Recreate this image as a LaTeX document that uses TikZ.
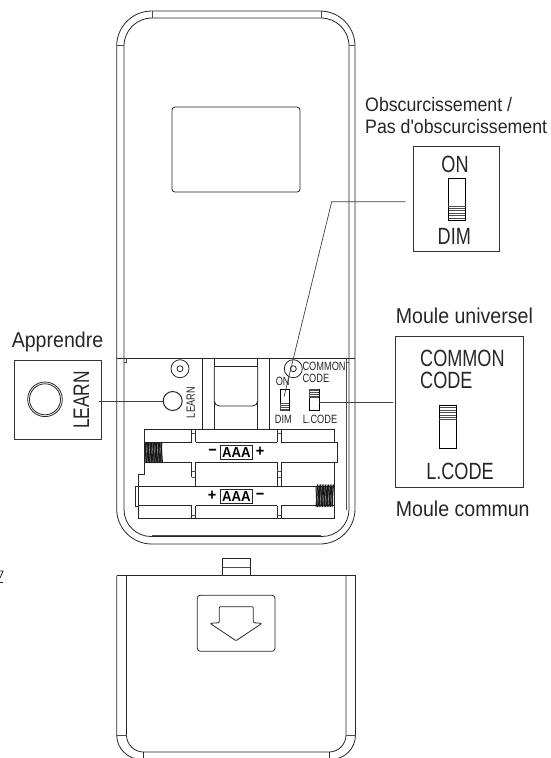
\documentclass[tikz,border=0pt]{standalone}
\usepackage{fontspec}
\setmainfont{Liberation Sans}[FakeStretch=0.91, Ligatures=TeXOff]
\newfontfamily\codefont{Liberation Sans}[FakeStretch=0.77]

\tikzset{
	part/.style={line width=0.8pt, draw=black!85},
	thin part/.style={line width=0.6pt, draw=black!70},
	leader/.style={line width=0.7pt, draw=black!75},
	caption/.style={font=\fontsize{19.5}{21.5}\selectfont, text=black!85, inner sep=0pt, align=left},
	large caption/.style={caption, font=\fontsize{21.5}{23}\selectfont},
	big code/.style={font=\codefont\fontsize{23.5}{25}\selectfont, text=black!85, inner sep=0pt},
	small code/.style={font=\codefont\fontsize{12}{13}\selectfont, text=black!85, inner sep=0pt},
	zoom box/.style={rectangle, draw=black!80, line width=0.8pt, inner sep=0pt},
	slider/.style={rectangle, draw=black, line width=0.8pt, inner sep=0pt},
	round part/.style={circle, draw=black!85, line width=0.8pt, inner sep=0pt},
	battery box/.style={rectangle, draw=black!85, line width=1.1pt, inner sep=0pt,
		minimum width=31.5pt, minimum height=14.3pt, font=\bfseries\fontsize{14.5}{14.5}\selectfont},
	battery sign/.style={font=\bfseries\fontsize{16}{16}\selectfont, inner sep=0pt}
}

\begin{document}
\begin{tikzpicture}[x=1pt, y=-1pt]
	\useasboundingbox (0,0) rectangle (550,758);
	\clip (0,0) rectangle (550,758);

	% remote body
	\draw[part, rounded corners=35pt] (116.7,11) rectangle (355,544);
	\draw[part, rounded corners=28pt] (124,358) -- (124,18) -- (349,18) -- (349,358);
	\draw[thin part] (152,11) -- (152,18);
	\draw[thin part] (321,11) -- (321,18);
	\draw[thin part] (116.7,45) -- (124,45);
	\draw[thin part] (349,45) -- (355,45);
	\draw[part, rounded corners=3pt] (172,107) rectangle (300,192);
	\draw[part] (116.7,358) -- (355,358);

	% lower inner edge
	\draw[part, rounded corners=27pt] (124,358) -- (124,536.5) -- (349,536.5) -- (349,358);
	\draw[thin part] (346.7,358) -- (346.7,510);
	\draw[thin part] (152,534.8) -- (321,534.8);
	\draw[thin part] (124,362) -- (126,362) -- (126,358);
	\draw[thin part] (347,362) -- (349,362);

	% centre slot
	\foreach \slotx in {202.7,214.3,257.7,269.3}
		\draw[part] (\slotx,358) -- (\slotx,429.3);
	\draw[part, fill=white, rounded corners=5pt] (214.3,366.7) -- (214.3,406) -- (257.7,406) -- (257.7,366.7);
	\draw[part] (214.3,366.7) -- (257.7,366.7);

	% screws and learn button
	\node[round part, minimum size=18pt] (screwL) at (180,368.7) {};
	\node[round part, minimum size=6pt] (screwLhole) at (180,368.7) {};
	\node[round part, minimum size=18pt] (screwR) at (293.3,368.7) {};
	\node[round part, minimum size=6pt] (screwRhole) at (293.3,368.7) {};
	\node[round part, line width=1pt, minimum size=19pt] (learnbtn) at (172.7,401) {};
	\node[small code, rotate=90] (learntxt) at (190.7,402.7) {LEARN};

	% switches on the remote
	\node[small code, anchor=west] (commontxt) at (302.3,366) {COMMON};
	\node[small code, anchor=west] (codetxt) at (302.3,378) {CODE};
	\node[small code] (ontxt) at (282.7,381.7) {ON};
	\node[small code] (dimtxt) at (283.3,419) {DIM};
	\node[small code] (lcodetxt) at (320,419) {L.CODE};
	\node[slider, minimum width=9pt, minimum height=21.7pt] (dimsw) at (284.5,399.8) {};
	\node[slider, minimum width=9.7pt, minimum height=21.7pt] (lcodesw) at (314.2,399.8) {};
	\fill[black!70] (280,402.7) rectangle (289,410.7);
	\fill[black!70] (309.3,389) rectangle (319,398);
	\foreach \hatchy in {404.5,406.5,408.5}
		\draw[white, line width=0.5pt] (280.5,\hatchy) -- (288.5,\hatchy);
	\foreach \hatchy in {391,393,395}
		\draw[white, line width=0.5pt] (309.8,\hatchy) -- (318.5,\hatchy);

	% battery bay
	\draw[part] (144.3,429.3) -- (334,429.3) -- (334,442.3) -- (337.7,442.3) -- (337.7,462) -- (334,462)
		-- (334,518.3) -- (138.3,518.3) -- (138.3,474) -- (144.3,474) -- cycle;
	\foreach \riba/\ribb in {191.7/195.7,277/281} {
		\draw[part] (\riba,429.3) -- (\riba,442.3);
		\draw[part] (\ribb,429.3) -- (\ribb,442.3);
		\draw[part] (\riba,462) -- (\riba,477.3);
		\draw[part] (\ribb,462) -- (\ribb,486);
		\draw[part] (\riba,505.7) -- (\riba,518.3);
		\draw[part] (\ribb,505.7) -- (\ribb,518.3);
		\draw[thin part] (\riba,433) -- (\ribb,433);
		\draw[thin part] (\riba,471.7) -- (\ribb,471.7);
		\draw[thin part] (\riba,477.3) -- (\ribb,477.3);
		\draw[thin part] (\riba,515) -- (\ribb,515);
	}
	\draw[part] (277,477.3) -- (277,486);
	\foreach \chany in {442.3,462,505.7} {
		\draw[part] (144.3,\chany) -- (191.7,\chany);
		\draw[part] (195.7,\chany) -- (277,\chany);
		\draw[part] (281,\chany) -- (334,\chany);
	}
	\draw[part] (135,486) -- (334,486);
	\draw[part] (138.3,505.7) -- (144.3,505.7);
	\draw[part] (138.3,486) -- (135,486) -- (135,506) -- (138.3,506);
	\foreach \springk in {0,...,10} {
		\draw[line width=1pt, black!90] (145+\springk*1.6,442.5) -- (146.5+\springk*1.6,463);
		\draw[line width=1pt, black!90] (145.8+\springk*1.6,443) -- (145+\springk*1.6,462);
		\draw[line width=1pt, black!90] (316+\springk*1.6,507) -- (317.5+\springk*1.6,484.5);
		\draw[line width=1pt, black!90] (316.8+\springk*1.6,506) -- (316+\springk*1.6,486);
	}
	\node[battery box] (aaaA) at (236.4,452.2) {AAA};
	\node[battery box] (aaaB) at (236.4,496.3) {AAA};
	\node[battery sign] (minusA) at (212.7,452) {\textminus};
	\node[battery sign] (plusA) at (260,452) {+};
	\node[battery sign] (plusB) at (212,496) {+};
	\node[battery sign] (minusB) at (260,496) {\textminus};

	% battery cover
	\draw[part] (222.7,575.7) -- (222.7,558.3) -- (250,558.3) -- (250,575.7);
	\draw[thin part] (222.7,567) -- (250,567);
	\draw[part, rounded corners=24.4pt] (116.7,575.7) -- (116.7,759.4) -- (355.5,759.4) -- (355.5,575.7);
	\draw[part, rounded corners=17pt] (126.5,575.7) -- (126.5,752) -- (346,752) -- (346,575.7);
	\draw[part] (116.7,575.7) -- (355.5,575.7);
	\draw[thin part] (116.7,735) -- (126.5,735);
	\draw[thin part] (346,735) -- (355.5,735);
	\draw[part] (143.3,752) -- (143.3,760);
	\draw[part] (329,752) -- (329,760);
	\draw[part, rounded corners=3pt] (197.3,595.3) rectangle (275,651.3);
	\draw[part, line join=round, rounded corners=1pt] (219.3,622.7) -- (219.3,606.7) -- (253.3,606.7) -- (253.3,622.7)
		-- (262,623.3) -- (236,640.7) -- (210,623.3) -- cycle;

	% learn detail
	\node[large caption] (learncap) at (57.5,341.7) {Apprendre};
	\node[zoom box, minimum width=87.7pt, minimum height=78.3pt] (learnbox) at (57.8,399.8) {};
	\node[round part, minimum size=34.6pt] (bigbtn) at (45,399.3) {};
	\node[round part, minimum size=31pt] (bigbtnin) at (45,399.3) {};
	\node[big code, rotate=90, font=\codefont\fontsize{22.5}{25}\selectfont] (biglearn) at (81.4,400) {LEARN};
	\coordinate (learnend) at (99.3,401);
	\draw[leader] (learnend) -- (learnbtn.west);

	% dim detail
	\node[caption, anchor=west] (dimcap) at (365,105) {Obscurcissement /};
	\node[caption, anchor=west] (dimcapb) at (365,126.7) {Pas d'obscurcissement};
	\node[zoom box, minimum width=86pt, minimum height=104.3pt] (dimbox) at (456.3,198.8) {};
	\node[big code] (bigon) at (455,164.3) {ON};
	\node[big code] (bigdim) at (454.3,236.7) {DIM};
	\node[slider, minimum width=17.4pt, minimum height=42.4pt] (bigdimsw) at (457,199.5) {};
	\foreach \hatchy in {208,210.5,213,215.5,218}
		\draw[thin part] (449,\hatchy) -- (465,\hatchy);
	\draw[thin part] (448.3,206.7) -- (465.7,206.7);
	\coordinate (dimbend) at (331.7,201.7);
	\coordinate (dimend) at (405.7,201.7);
	\coordinate (dimstart) at (284,396.7);
	\draw[leader] (dimstart) -- (dimbend) -- (dimend);

	% common code detail
	\node[large caption, anchor=west] (codecap) at (395.7,316) {Moule universel};
	\node[zoom box, minimum width=127.6pt, minimum height=150.6pt] (codebox) at (459.5,412) {};
	\node[big code, anchor=west] (bigcommon) at (420,358.3) {COMMON};
	\node[big code, anchor=west] (bigcode) at (420,380) {CODE};
	\node[big code] (biglcode) at (460,471) {L.CODE};
	\node[large caption, anchor=west] (codecapb) at (395.7,509) {Moule commun};
	\node[slider, minimum width=17.7pt, minimum height=43pt] (bigcodesw) at (447.8,426.8) {};
	\foreach \hatchy in {407.5,410,412.5,415,417.5}
		\draw[thin part] (439.8,\hatchy) -- (456,\hatchy);
	\draw[thin part] (439,419.5) -- (456.7,419.5);
	\coordinate (codeend) at (393,402.7);
	\draw[leader] (lcodesw.east |- codeend) -- (codeend);

	% stray edge mark
	\draw[part] (0,571) -- (3,571) -- (0,578);
	\draw[part] (0,582) -- (3,582);
\end{tikzpicture}
\end{document}
